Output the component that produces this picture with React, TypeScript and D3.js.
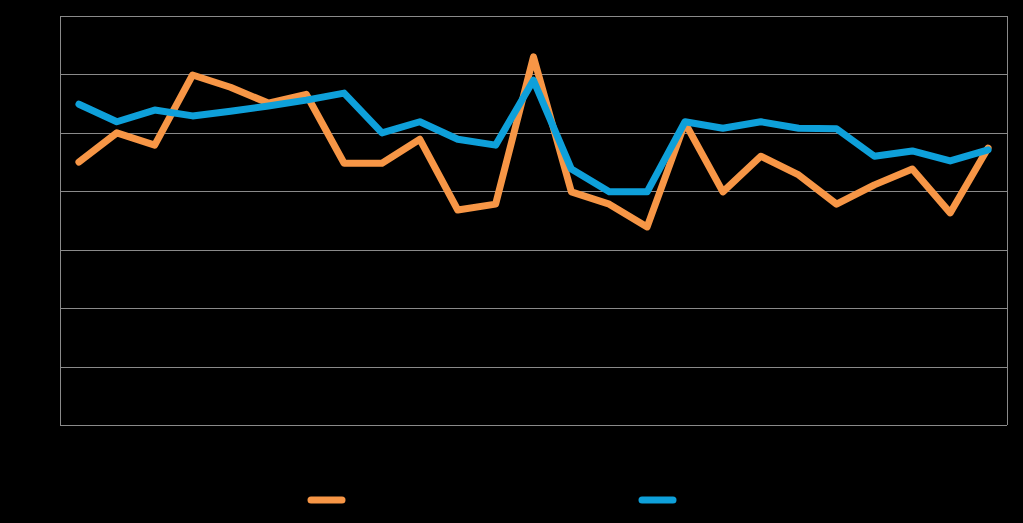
import React from "react";
import * as d3 from "d3";

const categories: string[] = Array.from({ length: 25 }, (_, i) => String(i + 1));
const seriesNames = ["Series 1", "Series 2"];
const orangeValues = [45.0, 50.0, 47.9, 59.9, 57.8, 55.1, 56.6, 44.8, 44.8, 48.9, 36.8, 37.8, 63.0, 39.9, 37.8, 33.9, 51.7, 39.9, 46.0, 42.8, 37.8, 41.1, 43.8, 36.3, 47.4];
const blueValues = [54.9, 51.9, 53.9, 52.9, 53.7, 54.6, 55.6, 56.8, 50.0, 51.9, 48.9, 47.9, 59.0, 43.8, 39.9, 39.9, 51.9, 50.8, 51.9, 50.8, 50.7, 46.0, 46.9, 45.2, 47.1];
const yTicks = [0, 10, 20, 30, 40, 50, 60, 70];

const W = 1023, H = 523;
const plot = { left: 60, right: 1007, top: 16, bottom: 425 };
const colors = ["#F79646", "#0EA0DA"];

export default function App() {
  const x = d3.scalePoint<string>().domain(categories).range([plot.left, plot.right]).padding(0.5);
  const y = d3.scaleLinear().domain([0, 70]).range([plot.bottom, plot.top]);
  const line = d3.line<number>().x((_, i) => x(categories[i]) as number).y((d) => y(d));
  const series = [orangeValues, blueValues];
  const legendX = [308, 639];
  return (
    <svg width={W} height={H} style={{ position: "fixed", left: 0, top: 0, background: "#000" }}>
      <rect x={0} y={0} width={W} height={H} fill="#000" />
      {yTicks.map((t) => (
        <line key={t} x1={plot.left} x2={plot.right} y1={Math.round(y(t)) + 0.5} y2={Math.round(y(t)) + 0.5} stroke="#8a8a8a" strokeWidth={1} />
      ))}
      <line x1={plot.left + 0.5} x2={plot.left + 0.5} y1={plot.top} y2={plot.bottom} stroke="#8a8a8a" />
      <line x1={plot.right + 0.5} x2={plot.right + 0.5} y1={plot.top} y2={plot.bottom} stroke="#8a8a8a" />
      {series.map((s, i) => (
        <path key={seriesNames[i]} d={line(s) || ""} fill="none" stroke={colors[i]} strokeWidth={7} strokeLinejoin="round" strokeLinecap="round" />
      ))}
      {seriesNames.map((n, i) => (
        <line key={n} x1={legendX[i] + 3} x2={legendX[i] + 34} y1={500} y2={500} stroke={colors[i]} strokeWidth={7} strokeLinecap="round" />
      ))}
    </svg>
  );
}
